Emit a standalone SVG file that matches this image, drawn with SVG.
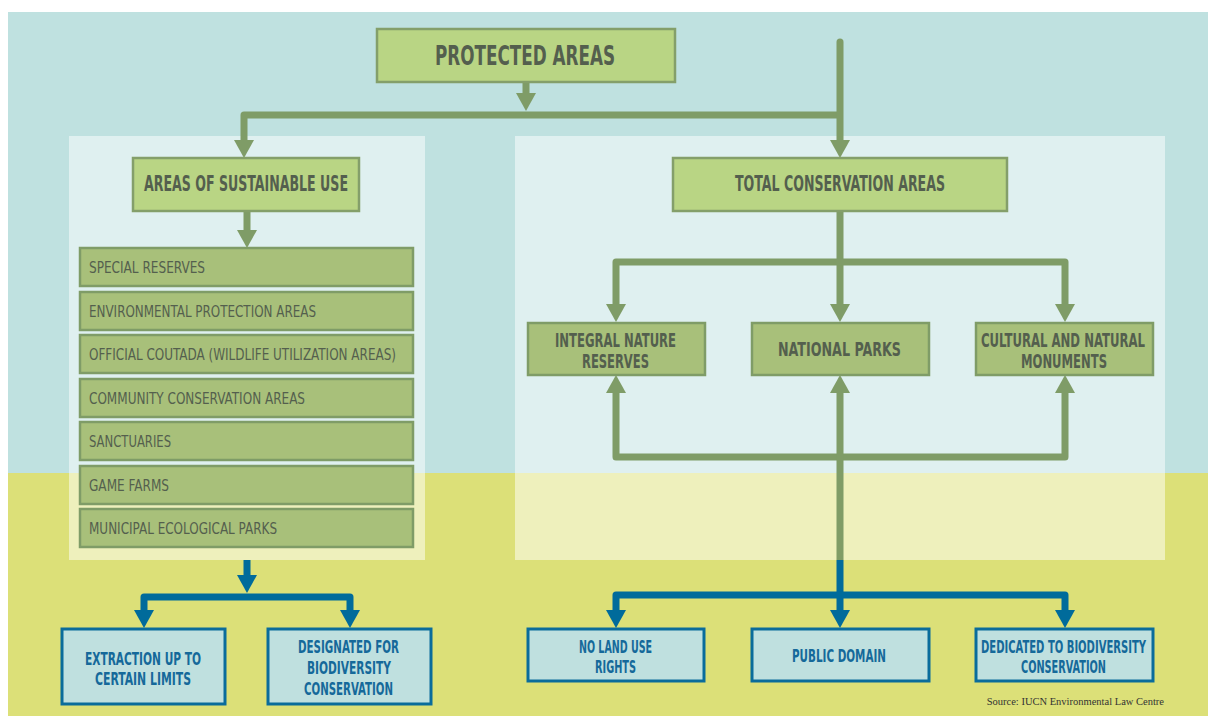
<svg xmlns="http://www.w3.org/2000/svg" width="1208" height="716" viewBox="0 0 1208 716">
<style>
.t{font-family:"DejaVu Sans Condensed","Liberation Sans Narrow","Roboto Condensed","Liberation Sans",sans-serif;font-weight:bold}
.li{font-weight:normal}
.hdr{fill:#b9d584;stroke:#849f6a;stroke-width:2.5}
.gbox{fill:#a8c07a;stroke:#7f9c67;stroke-width:2.5}
.bbox{fill:#bfe0df;stroke:#0a6c9b;stroke-width:3}
.gt{fill:#545f4e}
.bt{fill:#15699a}
.gl{fill:none;stroke:#7f9c67;stroke-width:7;stroke-linejoin:round}
.bl{fill:none;stroke:#006b9b;stroke-width:7;stroke-linejoin:round}
</style>
<defs>
<marker id="ag" markerUnits="userSpaceOnUse" markerWidth="20" markerHeight="20" refX="0" refY="10" orient="auto" viewBox="0 0 18 20"><path d="M0 0 L18 10 L0 20 Z" fill="#7f9c67"/></marker>
<marker id="ags" markerUnits="userSpaceOnUse" markerWidth="20" markerHeight="20" refX="0" refY="10" orient="auto-start-reverse" viewBox="0 0 18 20"><path d="M0 0 L18 10 L0 20 Z" fill="#7f9c67"/></marker>
<marker id="ab" markerUnits="userSpaceOnUse" markerWidth="20" markerHeight="20" refX="0" refY="10" orient="auto" viewBox="0 0 18 20"><path d="M0 0 L18 10 L0 20 Z" fill="#006b9b"/></marker>
<marker id="abs" markerUnits="userSpaceOnUse" markerWidth="20" markerHeight="20" refX="0" refY="10" orient="auto-start-reverse" viewBox="0 0 18 20"><path d="M0 0 L18 10 L0 20 Z" fill="#006b9b"/></marker>
</defs>
<g id="background">
<rect x="0" y="0" width="1208" height="716" fill="#ffffff"/>
<rect x="8" y="12" width="1200" height="461" fill="#bfe1e0"/>
<rect x="8" y="473" width="1200" height="243" fill="#dce078"/>
<rect x="69" y="136" width="356" height="424" fill="#ffffff" fill-opacity="0.5"/>
<rect x="515" y="136" width="650" height="424" fill="#ffffff" fill-opacity="0.5"/>
</g>
<g id="connectors">
<path class="gl" d="M526 82 V93" stroke-width="8" marker-end="url(#ag)"/>
<path class="gl" d="M840 115 H244 V140" marker-end="url(#ag)"/>
<path class="gl" d="M840 42 V140" stroke-linecap="round" marker-end="url(#ag)"/>
<path class="gl" d="M247 211 V230" marker-end="url(#ag)"/>
<path class="gl" d="M840 211 V304" marker-end="url(#ag)"/>
<path class="gl" d="M616 304 V262 H1065 V304" marker-start="url(#ags)" marker-end="url(#ag)"/>
<path class="gl" d="M616 393 V457 H1065 V393" marker-start="url(#ags)" marker-end="url(#ag)"/>
<path class="gl" d="M840 560 V393" marker-end="url(#ag)"/>
<path class="bl" d="M840 560 V610" marker-end="url(#ab)"/>
<path class="bl" d="M616 610 V595 H1065 V610" marker-start="url(#abs)" marker-end="url(#ab)"/>
<path class="bl" d="M247 560 V575" marker-end="url(#ab)"/>
<path class="bl" d="M144 610 V597 H350 V610" marker-start="url(#abs)" marker-end="url(#ab)"/>
</g>
<g id="protected-areas">
<rect class="hdr" x="377" y="29" width="298" height="53"/>
<text class="t gt" x="435" y="65" font-size="27" textLength="180" lengthAdjust="spacingAndGlyphs">PROTECTED AREAS</text>
</g>
<g id="sustainable-use">
<rect class="hdr" x="133" y="158" width="226" height="53"/>
<text class="t gt" x="144" y="191" font-size="20.5" textLength="204" lengthAdjust="spacingAndGlyphs">AREAS OF SUSTAINABLE USE</text>
</g>
<g id="total-conservation">
<rect class="hdr" x="673" y="158" width="334" height="53"/>
<text class="t gt" x="735" y="191" font-size="20.5" textLength="210" lengthAdjust="spacingAndGlyphs">TOTAL CONSERVATION AREAS</text>
</g>
<g id="special-reserves">
<rect class="gbox" x="80" y="248" width="333" height="38"/>
<text class="t li gt" x="89" y="273" font-size="16" textLength="116" lengthAdjust="spacingAndGlyphs">SPECIAL RESERVES</text>
</g>
<g id="environmental-protection-areas">
<rect class="gbox" x="80" y="292" width="333" height="38"/>
<text class="t li gt" x="89" y="317" font-size="16" textLength="227" lengthAdjust="spacingAndGlyphs">ENVIRONMENTAL PROTECTION AREAS</text>
</g>
<g id="official-coutada">
<rect class="gbox" x="80" y="335" width="333" height="38"/>
<text class="t li gt" x="89" y="360" font-size="16" textLength="307" lengthAdjust="spacingAndGlyphs">OFFICIAL COUTADA (WILDLIFE UTILIZATION AREAS)</text>
</g>
<g id="community-conservation-areas">
<rect class="gbox" x="80" y="379" width="333" height="38"/>
<text class="t li gt" x="89" y="404" font-size="16" textLength="216" lengthAdjust="spacingAndGlyphs">COMMUNITY CONSERVATION AREAS</text>
</g>
<g id="sanctuaries">
<rect class="gbox" x="80" y="422" width="333" height="38"/>
<text class="t li gt" x="89" y="447" font-size="16" textLength="82" lengthAdjust="spacingAndGlyphs">SANCTUARIES</text>
</g>
<g id="game-farms">
<rect class="gbox" x="80" y="466" width="333" height="38"/>
<text class="t li gt" x="89" y="491" font-size="16" textLength="80" lengthAdjust="spacingAndGlyphs">GAME FARMS</text>
</g>
<g id="municipal-ecological-parks">
<rect class="gbox" x="80" y="509" width="333" height="38"/>
<text class="t li gt" x="89" y="534" font-size="16" textLength="188" lengthAdjust="spacingAndGlyphs">MUNICIPAL ECOLOGICAL PARKS</text>
</g>
<g id="integral-nature-reserves">
<rect class="gbox" x="528" y="323" width="177" height="52"/>
<text class="t gt" x="555" y="347" font-size="19" textLength="121" lengthAdjust="spacingAndGlyphs">INTEGRAL NATURE</text>
<text class="t gt" x="582" y="368" font-size="19" textLength="67" lengthAdjust="spacingAndGlyphs">RESERVES</text>
</g>
<g id="national-parks">
<rect class="gbox" x="752" y="323" width="177" height="52"/>
<text class="t gt" x="778" y="356" font-size="20" textLength="123" lengthAdjust="spacingAndGlyphs">NATIONAL PARKS</text>
</g>
<g id="cultural-natural-monuments">
<rect class="gbox" x="976" y="323" width="177" height="52"/>
<text class="t gt" x="981" y="347" font-size="19" textLength="164" lengthAdjust="spacingAndGlyphs">CULTURAL AND NATURAL</text>
<text class="t gt" x="1021" y="368" font-size="19" textLength="86" lengthAdjust="spacingAndGlyphs">MONUMENTS</text>
</g>
<g id="extraction">
<rect class="bbox" x="62" y="629" width="163" height="75"/>
<text class="t bt" x="85" y="665" font-size="17" textLength="116" lengthAdjust="spacingAndGlyphs">EXTRACTION UP TO</text>
<text class="t bt" x="95" y="685" font-size="17" textLength="96" lengthAdjust="spacingAndGlyphs">CERTAIN LIMITS</text>
</g>
<g id="designated">
<rect class="bbox" x="268" y="629" width="163" height="75"/>
<text class="t bt" x="298" y="653" font-size="17" textLength="101" lengthAdjust="spacingAndGlyphs">DESIGNATED FOR</text>
<text class="t bt" x="307" y="674" font-size="17" textLength="84" lengthAdjust="spacingAndGlyphs">BIODIVERSITY</text>
<text class="t bt" x="304" y="695" font-size="17" textLength="89" lengthAdjust="spacingAndGlyphs">CONSERVATION</text>
</g>
<g id="no-land-use-rights">
<rect class="bbox" x="528" y="629" width="176" height="52"/>
<text class="t bt" x="579" y="653" font-size="17" textLength="73" lengthAdjust="spacingAndGlyphs">NO LAND USE</text>
<text class="t bt" x="595" y="673" font-size="17" textLength="41" lengthAdjust="spacingAndGlyphs">RIGHTS</text>
</g>
<g id="public-domain">
<rect class="bbox" x="752" y="629" width="177" height="52"/>
<text class="t bt" x="792" y="662" font-size="17" textLength="94" lengthAdjust="spacingAndGlyphs">PUBLIC DOMAIN</text>
</g>
<g id="dedicated">
<rect class="bbox" x="976" y="629" width="177" height="52"/>
<text class="t bt" x="981" y="653" font-size="17" textLength="165" lengthAdjust="spacingAndGlyphs">DEDICATED TO BIODIVERSITY</text>
<text class="t bt" x="1021" y="673" font-size="17" textLength="85" lengthAdjust="spacingAndGlyphs">CONSERVATION</text>
</g>
<text x="1164" y="705" text-anchor="end" font-family="Liberation Serif, serif" font-size="10.5" fill="#333333">Source: IUCN Environmental Law Centre</text>
</svg>
